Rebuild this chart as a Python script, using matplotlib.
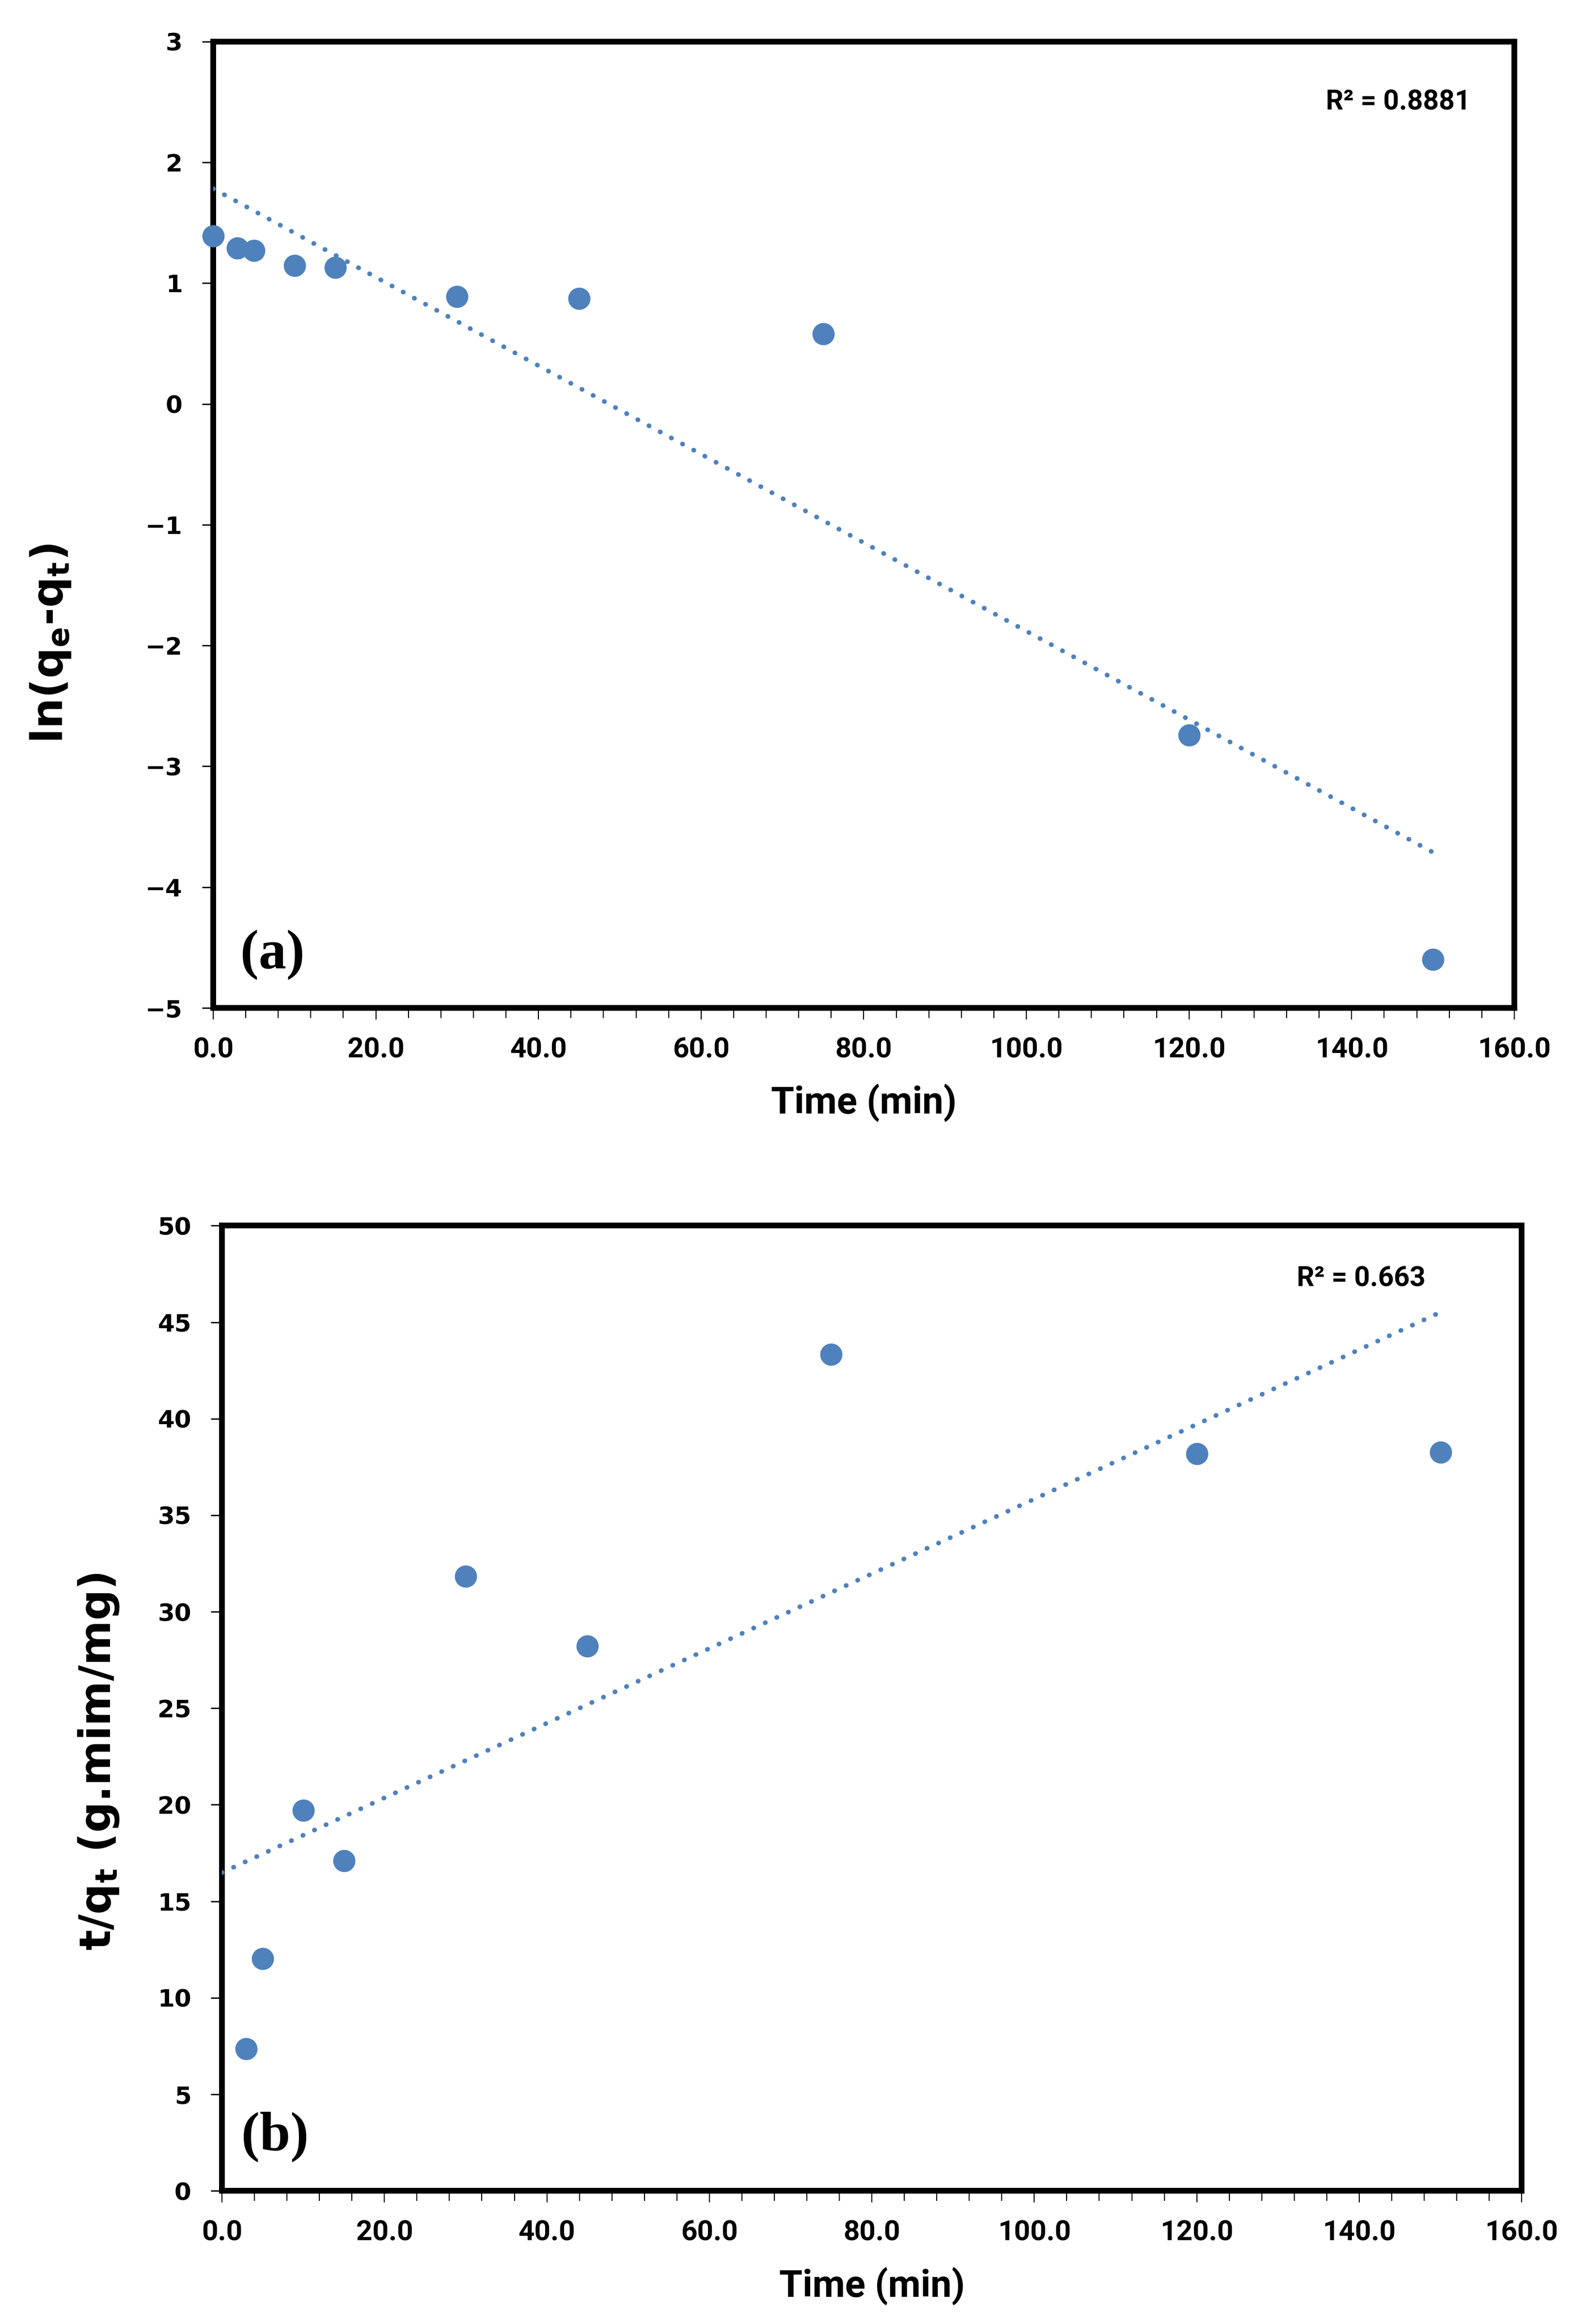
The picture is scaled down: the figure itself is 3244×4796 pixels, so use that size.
import numpy as np
import matplotlib
matplotlib.use("Agg")
import matplotlib.pyplot as plt
from matplotlib.ticker import MultipleLocator, FormatStrFormatter

# pseudo-first-order panel (a)
time_a = [0, 3, 5, 10, 15, 30, 45, 75, 120, 150]
ln_qe_qt = [1.39, 1.29, 1.27, 1.145, 1.13, 0.89, 0.875, 0.58, -2.74, -4.60]
r2_a = "R² = 0.8881"

# pseudo-second-order panel (b)
time_b = [3, 5, 10, 15, 30, 45, 75, 120, 150]
t_over_qt = [7.36, 12.04, 19.71, 17.10, 31.83, 28.22, 43.33, 38.19, 38.27]
r2_b = "R² = 0.663"

trend_span = [0, 150]

BLUE = "#4F81BD"
NARROW = ["Roboto", "DejaVu Sans"]

plt.rcParams["font.family"] = ["DejaVu Sans"]
plt.rcParams["font.weight"] = "bold"
plt.rcParams["axes.labelweight"] = "bold"
plt.rcParams["mathtext.fontset"] = "dejavusans"

fig = plt.figure(figsize=(32.44, 47.96), dpi=100)
ax_a = fig.add_axes([0.1356, 0.5663, 0.8277, 0.4158])
ax_b = fig.add_axes([0.1412, 0.0573, 0.8268, 0.4153])


def draw_panel(ax, x, y, r2_text, tag, ylabel, ylim, ystep, label_xy, tag_xy, r2_xy):
    x = np.asarray(x, float)
    y = np.asarray(y, float)
    slope, icpt = np.polyfit(x, y, 1)
    xs = np.linspace(trend_span[0], trend_span[1], 200)

    ax.plot(x, y, "o", ms=32, color=BLUE, mec=BLUE, clip_on=False, zorder=4)
    ax.plot(xs, icpt + slope * xs, color=BLUE, lw=7,
            linestyle=(0, (0.05, 2.65)), dash_capstyle="round", zorder=5)

    ax.set_xlim(0, 160)
    ax.set_ylim(*ylim)
    ax.xaxis.set_major_locator(MultipleLocator(20))
    ax.xaxis.set_minor_locator(MultipleLocator(4))
    ax.xaxis.set_major_formatter(FormatStrFormatter("%.1f"))
    ax.yaxis.set_major_locator(MultipleLocator(ystep))

    for sp in ax.spines.values():
        sp.set_linewidth(8.5)
    ax.tick_params(axis="x", which="major", direction="out", length=17, width=1.6,
                   pad=26, labelsize=42, labelfontfamily=NARROW)
    ax.tick_params(axis="x", which="minor", direction="out", length=15, width=1.6)
    ax.tick_params(axis="y", which="major", direction="out", length=16.5, width=2,
                   pad=29, labelsize=36)

    ax.set_xlabel("Time (min)", fontsize=56, family=NARROW, labelpad=30)
    ax.set_ylabel(ylabel, fontsize=64)
    ax.yaxis.set_label_coords(*label_xy)

    ax.text(r2_xy[0], r2_xy[1], r2_text, transform=ax.transAxes, fontsize=41,
            family=NARROW, ha="left", va="center")
    ax.text(tag_xy[0], tag_xy[1], tag, transform=ax.transAxes, fontsize=82,
            family=["Liberation Serif", "DejaVu Serif"], ha="left", va="center")


draw_panel(ax_a, time_a, ln_qe_qt, r2_a, "(a)",
           r"ln(q$_\mathbf{e}$-q$_\mathbf{t}$)", (-5, 3), 1,
           (-0.108, 0.377), (0.021, 0.055), (0.855, 0.937))
draw_panel(ax_b, time_b, t_over_qt, r2_b, "(b)",
           r"t/q$_\mathbf{t}$ (g.mim/mg)", (0, 50), 5,
           (-0.078, 0.445), (0.015, 0.056), (0.827, 0.945))

fig.savefig("out.png", dpi=100)
